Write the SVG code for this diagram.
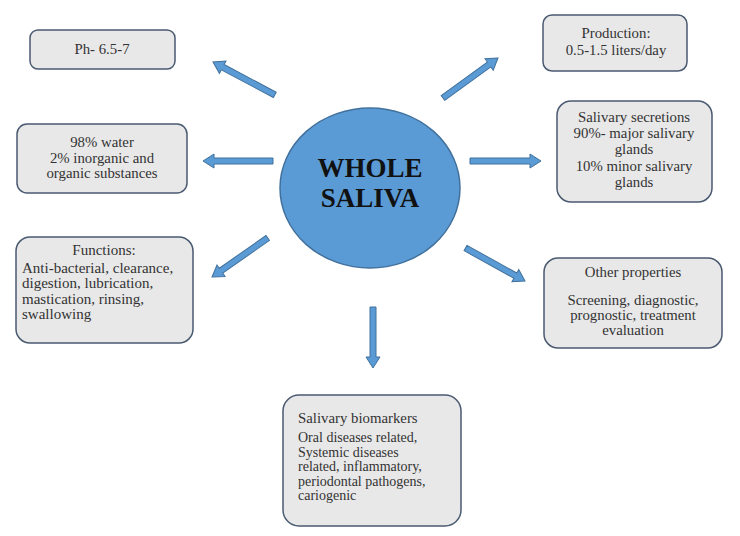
<svg xmlns="http://www.w3.org/2000/svg" width="740" height="536" viewBox="0 0 740 536">
<style>
.box{fill:#e8e8e8;stroke:#4a5a70;stroke-width:1.5}
.t{font-family:"Liberation Serif",serif;font-size:14.8px;fill:#333}
.f{font-family:"Liberation Serif",serif;font-size:15px;fill:#333}
.b{font-family:"Liberation Serif",serif;font-size:14px;fill:#333}
.c{text-anchor:middle}
.arr{fill:#5b9bd5;stroke:#41719c;stroke-width:1}
.title{font-family:"Liberation Serif",serif;font-size:27px;font-weight:bold;fill:#111;text-anchor:middle}
</style>
<rect width="740" height="536" fill="#fff"/>
<g id="connectors">
<path class="arr" transform="translate(213,62) rotate(208)" d="M0,0 L-11,-7 L-11,-3 L-70,-3 L-70,3 L-11,3 L-11,7 Z"/>
<path class="arr" transform="translate(203,161) rotate(180)" d="M0,0 L-11,-7 L-11,-3 L-70,-3 L-70,3 L-11,3 L-11,7 Z"/>
<path class="arr" transform="translate(212,277) rotate(145)" d="M0,0 L-11,-7 L-11,-3 L-68,-3 L-68,3 L-11,3 L-11,7 Z"/>
<path class="arr" transform="translate(498,58) rotate(-36)" d="M0,0 L-11,-7 L-11,-3 L-68,-3 L-68,3 L-11,3 L-11,7 Z"/>
<path class="arr" transform="translate(541,161)" d="M0,0 L-11,-7 L-11,-3 L-71,-3 L-71,3 L-11,3 L-11,7 Z"/>
<path class="arr" transform="translate(525,281) rotate(29)" d="M0,0 L-11,-7 L-11,-3 L-68,-3 L-68,3 L-11,3 L-11,7 Z"/>
<path class="arr" transform="translate(373,368) rotate(90)" d="M0,0 L-11,-7 L-11,-3 L-61,-3 L-61,3 L-11,3 L-11,7 Z"/>
</g>
<g id="center">
<ellipse cx="370" cy="188" rx="90" ry="80" fill="#5b9bd5" stroke="#41719c" stroke-width="1.5"/>
<text class="title" x="370" y="177">WHOLE</text>
<text class="title" x="370" y="207">SALIVA</text>
</g>
<g id="ph">
<rect class="box" x="30" y="30" width="145" height="39" rx="8"/>
<text class="t c" x="102" y="54">Ph- 6.5-7</text>
</g>
<g id="water">
<rect class="box" x="17" y="124" width="170" height="69" rx="10"/>
<text class="t c" x="102" y="147">98% water</text>
<text class="t c" x="102" y="163">2% inorganic and</text>
<text class="t c" x="102" y="178">organic substances</text>
</g>
<g id="functions">
<rect class="box" x="16" y="237" width="177" height="106" rx="14"/>
<text class="f c" x="104" y="255">Functions:</text>
<text class="f" x="22" y="272.5">Anti-bacterial, clearance,</text>
<text class="f" x="22" y="288">digestion, lubrication,</text>
<text class="f" x="22" y="303.5">mastication, rinsing,</text>
<text class="f" x="22" y="319">swallowing</text>
</g>
<g id="production">
<rect class="box" x="543" y="15" width="144" height="56" rx="9"/>
<text class="t c" x="616" y="38">Production:</text>
<text class="t c" x="616" y="55">0.5-1.5 liters/day</text>
</g>
<g id="secretions">
<rect class="box" x="557" y="101" width="155" height="101" rx="14"/>
<text class="t c" x="634" y="122">Salivary secretions</text>
<text class="t c" x="634" y="138">90%- major salivary</text>
<text class="t c" x="634" y="154">glands</text>
<text class="t c" x="634" y="171">10% minor salivary</text>
<text class="t c" x="634" y="187">glands</text>
</g>
<g id="other">
<rect class="box" x="544" y="258" width="178" height="90" rx="14"/>
<text class="t c" x="633" y="277">Other properties</text>
<text class="t c" x="633" y="305">Screening, diagnostic,</text>
<text class="t c" x="633" y="320">prognostic, treatment</text>
<text class="t c" x="633" y="335">evaluation</text>
</g>
<g id="biomarkers">
<rect class="box" x="283" y="395" width="178" height="131" rx="16"/>
<text class="t" x="298" y="423">Salivary biomarkers</text>
<text class="b" x="298" y="442">Oral diseases related,</text>
<text class="b" x="298" y="456.5">Systemic diseases</text>
<text class="b" x="298" y="471">related, inflammatory,</text>
<text class="b" x="298" y="485.5">periodontal pathogens,</text>
<text class="b" x="298" y="500">cariogenic</text>
</g>
</svg>
